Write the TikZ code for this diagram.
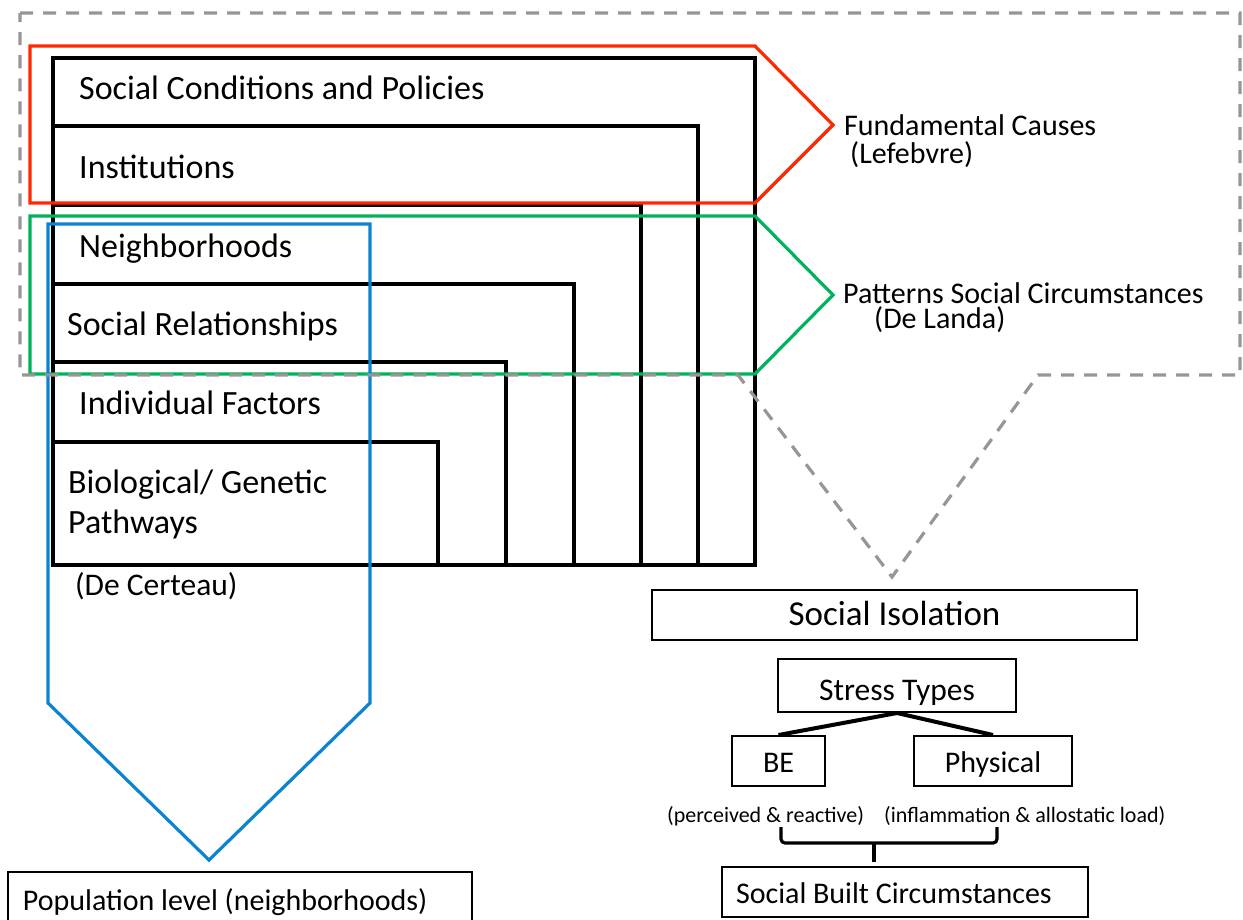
\documentclass[tikz,border=0pt]{standalone}
\usepackage{fontspec}
\setmainfont{Carlito}
\usetikzlibrary{calc}

\definecolor{causered}{RGB}{255,40,0}
\definecolor{patgreen}{RGB}{0,178,90}
\definecolor{popblue}{RGB}{10,132,208}
\definecolor{dashgray}{RGB}{150,150,150}

\tikzset{
  layer/.style={draw=black, line width=3.5pt},
  levellabel/.style={anchor=base west, inner sep=0pt, font=\fontsize{34}{40}\selectfont},
  sidelabel/.style={anchor=base west, inner sep=0pt, font=\fontsize{30}{36}\selectfont},
  notelabel/.style={anchor=base west, inner sep=0pt, font=\fontsize{22}{26}\selectfont},
  flowbox/.style={draw=black, line width=2pt, inner sep=0pt, text depth=0pt},
  treeline/.style={draw=black, line width=4pt},
  outline/.style={line width=3.2pt, line join=miter},
}

\begin{document}
\begin{tikzpicture}[x=1pt, y=-1pt]
\useasboundingbox (0,0) rectangle (1243,919);

% nested levels, outermost first
\draw[layer] (53,58)  rectangle (755,565);
\draw[layer] (53,126) rectangle (698,565);
\draw[layer] (53,205) rectangle (641,565);
\draw[layer] (53,284) rectangle (574,565);
\draw[layer] (53,362) rectangle (506,565);
\draw[layer] (53,442) rectangle (438,565);

% grouping outlines
\draw[outline, causered] (30,46) -- (755,46) -- (833,125) -- (755,203) -- (30,203) -- cycle;
\draw[outline, patgreen] (30,216) -- (755,216) -- (833,295) -- (755,374) -- (30,374) -- cycle;
\draw[outline, popblue]  (48,224) -- (370,224) -- (370,703) -- (209,860) -- (48,703) -- cycle;
\draw[outline, dashgray, dash pattern=on 13pt off 10pt]
  (20,13) -- (1240,13) -- (1240,375) -- (1038,375) -- (892,577) -- (738,375) -- (20,375) -- cycle;

% level labels
\node[levellabel] (policies) at (79,99)  {Social Conditions and Policies};
\node[levellabel] (inst)     at (79,178) {Institutions};
\node[levellabel] (neigh)    at (79,257) {Neighborhoods};
\node[levellabel] (rel)      at (67,335) {Social Relationships};
\node[levellabel] (indiv)    at (79,414) {Individual Factors};
\node[levellabel] (bio)      at (68,493) {Biological/ Genetic};
\node[levellabel] (path)     at (68,533) {Pathways};
\node[sidelabel, font=\fontsize{31.5}{36}\selectfont] (certeau) at (75,595) {(De Certeau)};

% side labels
\node[sidelabel] (fund)     at (844,135) {Fundamental Causes};
\node[sidelabel] (lefebvre) at (850,163) {(Lefebvre)};
\node[sidelabel] (patt)     at (843,303) {Patterns Social Circumstances};
\node[sidelabel] (landa)    at (874,328) {(De Landa)};

% stress branch
\node[flowbox, minimum width=485pt, minimum height=50pt, text height=20pt,
      font=\fontsize{35}{40}\selectfont] (iso) at (894.5,615) {Social Isolation};
\node[flowbox, minimum width=238pt, minimum height=53pt, text height=29pt,
      font=\fontsize{31.5}{36}\selectfont] (st) at (897,685.5) {Stress Types};
\node[flowbox, minimum width=93pt, minimum height=50pt, text height=22pt,
      font=\fontsize{30}{36}\selectfont] (be) at (778.5,761) {BE};
\node[flowbox, minimum width=158pt, minimum height=50pt, text height=22pt,
      font=\fontsize{30}{36}\selectfont] (phys) at (993,761) {Physical};
\draw[treeline] (st.south) -- (be.north);
\draw[treeline] (st.south) -- (phys.north);

\node[notelabel] (perc) at (667,822) {(perceived \& reactive)};
\node[notelabel] (infl) at (884,822) {(inflammation \& allostatic load)};

\node[flowbox, minimum width=366pt, minimum height=50pt,
      text height=22pt, font=\fontsize{30}{36}\selectfont] (sbc) at (905,892)
      {\makebox[338pt][l]{Social Built Circumstances}};

% bracket joining the two stress kinds
\coordinate (braceL) at (781,827);
\coordinate (braceR) at (997,827);
\coordinate (braceM) at (874,843);
\coordinate (braceT) at (874,862);
\draw[line width=3.2pt, rounded corners=4pt]
  (braceL) -- (braceL |- braceM) -- (braceM) -- (braceR |- braceM) -- (braceR);
\draw[line width=3.2pt] (braceM) -- (braceT);

% population level
\node[flowbox, minimum width=464pt, minimum height=58pt,
      text height=18pt, font=\fontsize{30}{36}\selectfont] (pop) at (240,901)
      {\makebox[434pt][l]{Population level (neighborhoods)}};
\end{tikzpicture}
\end{document}
